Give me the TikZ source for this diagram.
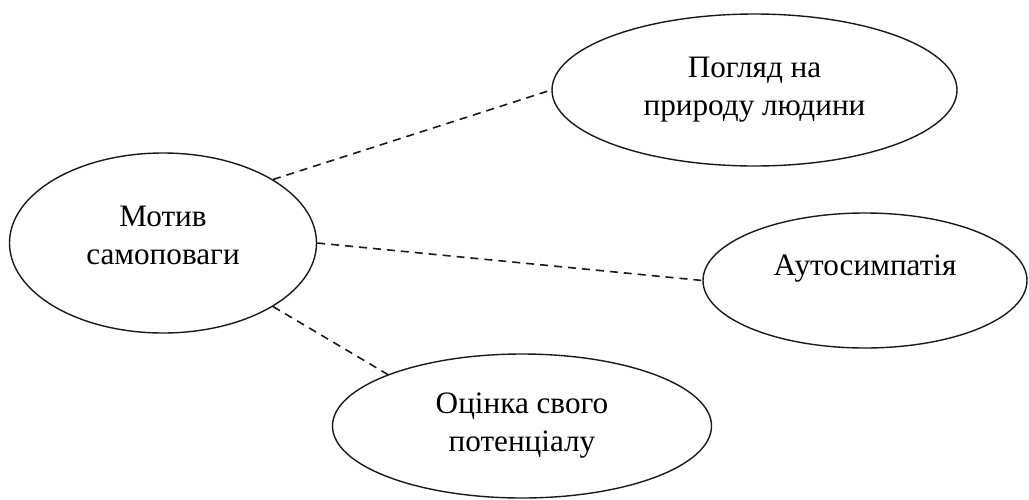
\documentclass[tikz,border=0pt]{standalone}
\usepackage{fontspec}
\setmainfont{Liberation Serif}
\usepackage{tikz}
\usetikzlibrary{shapes.geometric}
\definecolor{ovalline}{HTML}{1A1A1A}

\begin{document}
\begin{tikzpicture}[x=0.5pt,y=-0.5pt,
  oval/.style={ellipse,draw=ovalline,line width=0.7pt,inner sep=0pt,
      align=center,font=\fontsize{15.6}{19}\selectfont},
  link/.style={draw=ovalline,line width=0.8pt,dash pattern=on 4pt off 3pt}]
\useasboundingbox (0,0) rectangle (1029,499);
\node[oval,minimum width=153.5pt,minimum height=90pt,
      text height=22pt,text depth=1pt] (motyv) at (163,243)
  {Мотив\\самоповаги};
\node[oval,minimum width=202.5pt,minimum height=76pt] (pohliad) at (754.5,90)
  {Погляд на\\природу людини};
\node[oval,minimum width=162pt,minimum height=67.5pt,
      text height=11pt,text depth=16pt] (autosym) at (865,280.5)
  {Аутосимпатія};
\node[oval,minimum width=189.5pt,minimum height=72pt] (otsinka) at (522,426)
  {Оцінка свого\\потенціалу};
\draw[link] (motyv.30) -- (pohliad.west);
\draw[link] (motyv.east) -- (autosym.west);
\draw[link] (motyv.-30) -- (otsinka.159);
\end{tikzpicture}
\end{document}
